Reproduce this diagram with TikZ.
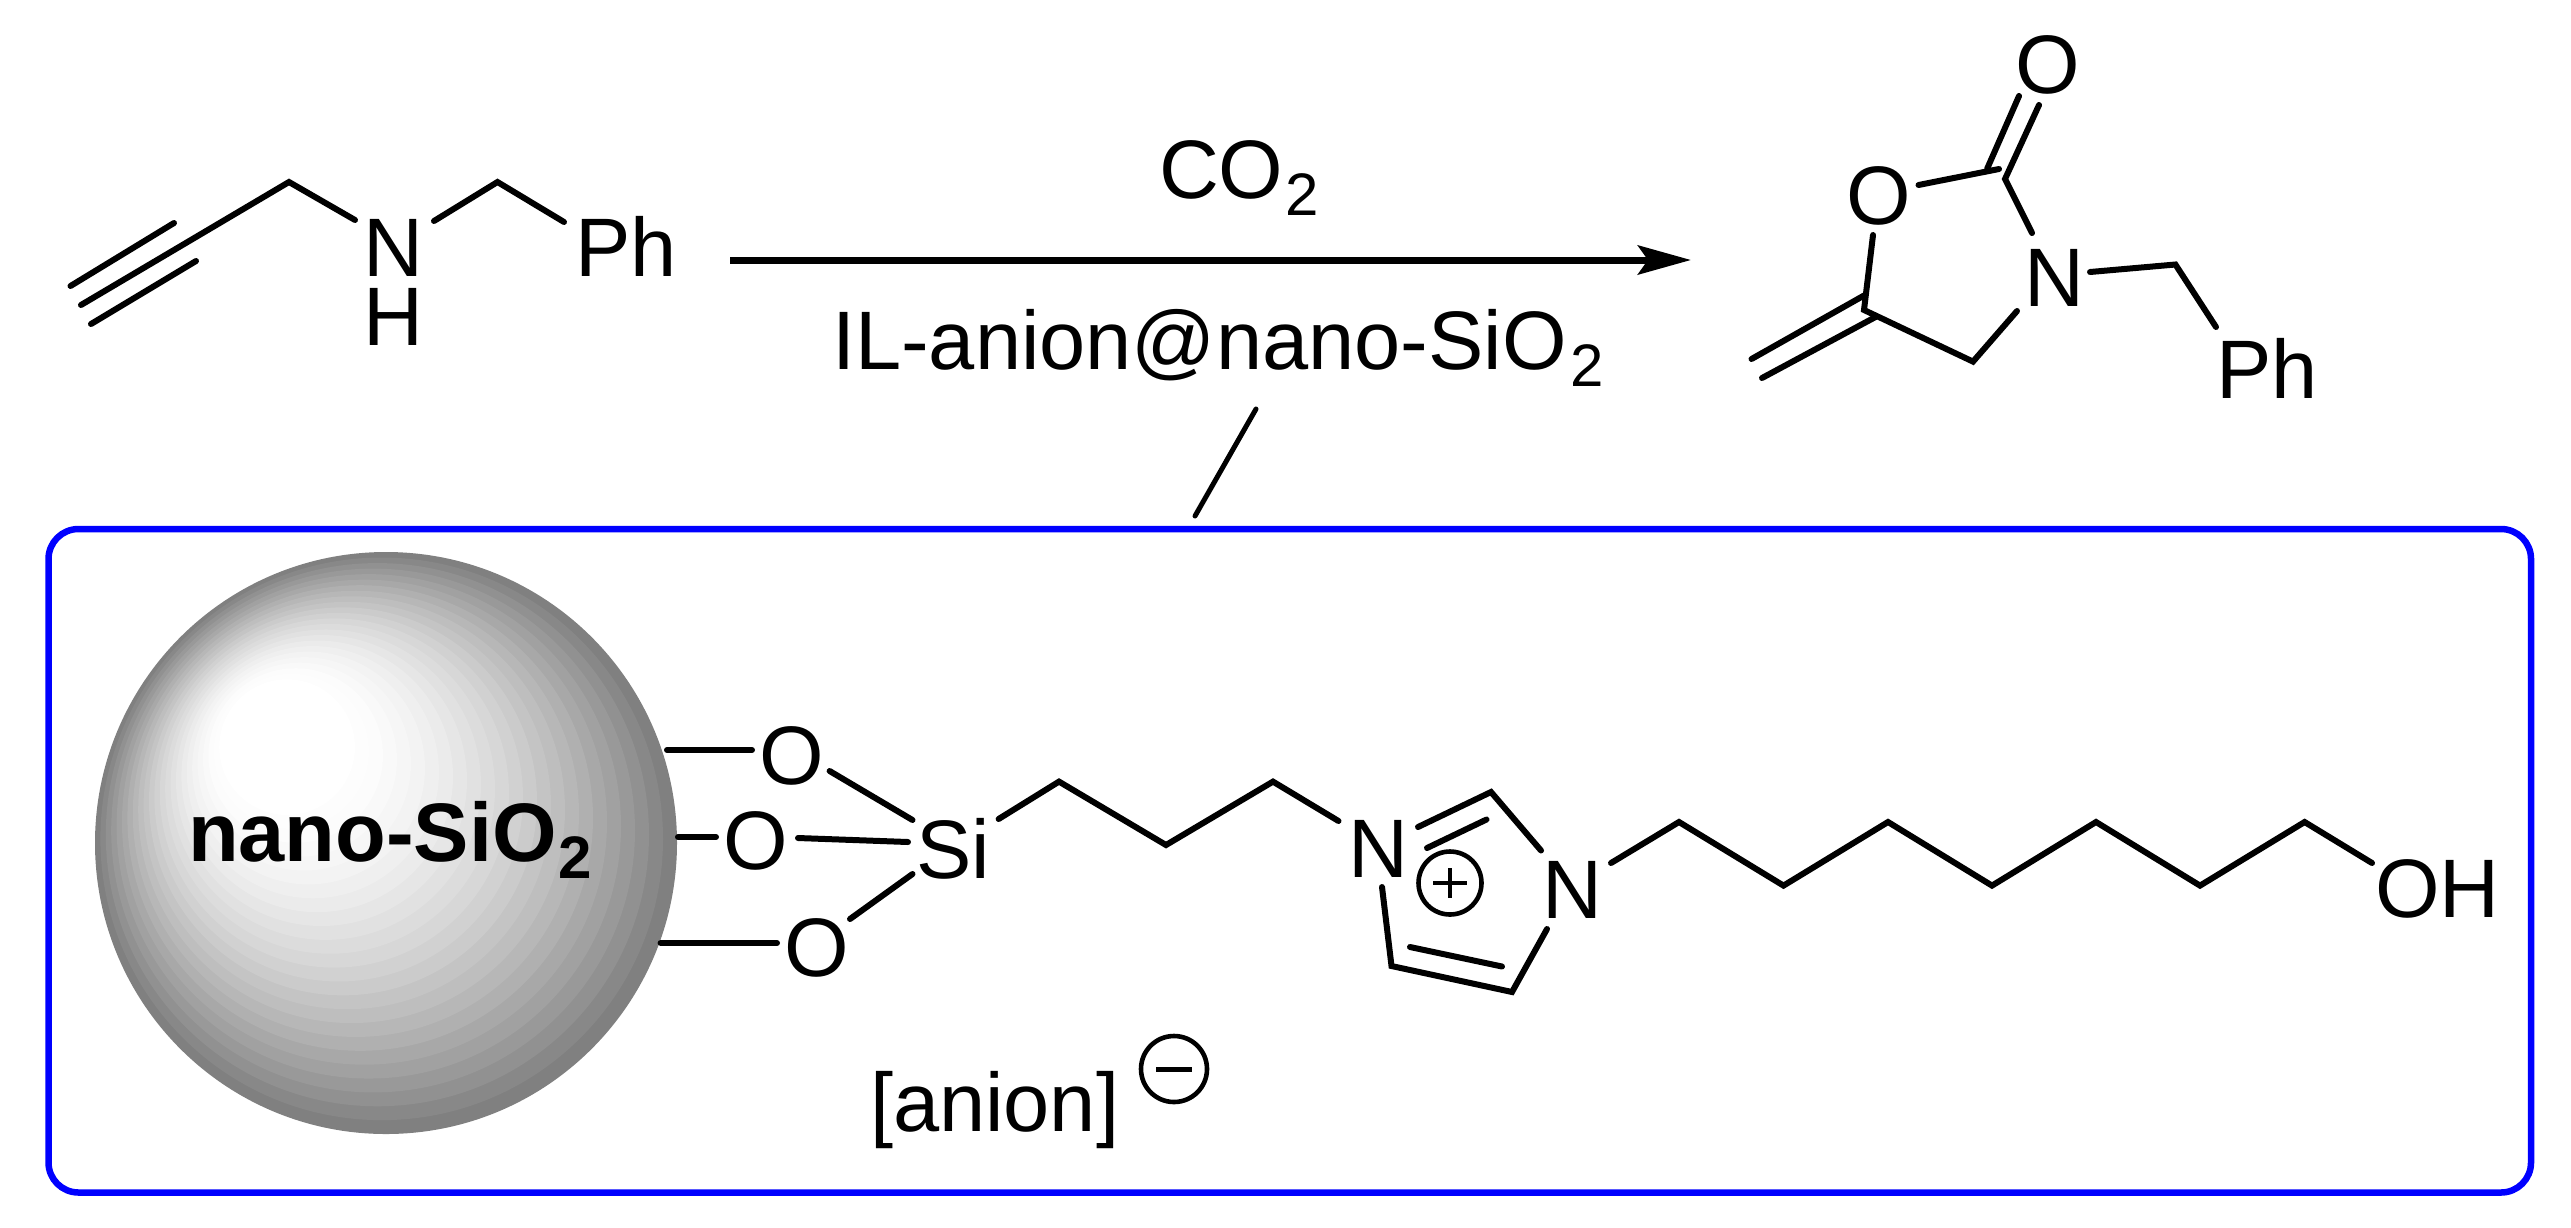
\documentclass[tikz,border=0pt]{standalone}
\usepackage{fontspec}
\setmainfont{Liberation Sans}
\usetikzlibrary{arrows.meta}
\newcommand{\bigtxt}{\fontsize{83}{90}\selectfont}
\newcommand{\subtxt}[1]{\kern2pt\raisebox{-17pt}{\fontsize{60}{60}\selectfont #1}}
\tikzset{
  bond/.style={draw=black,line width=6pt,line cap=round,line join=miter},
  thinbond/.style={draw=black,line width=5pt,line cap=round},
  atom/.style={inner sep=0pt,outer sep=0pt,anchor=base,font=\bigtxt,text=black},
  atomw/.style={inner sep=0pt,outer sep=0pt,anchor=base west,font=\bigtxt,text=black},
  frame/.style={draw=blue,line width=6.5pt,rounded corners=30pt},
  rxnarrow/.style={draw=black,line width=7pt,-{Stealth[length=53pt,width=29pt,inset=10pt]}},
  chargering/.style={draw=black,line width=4.6pt,circle,inner sep=0pt}
}
\begin{document}
\begin{tikzpicture}[x=1pt,y=-1pt]
\useasboundingbox (0,0) rectangle (2571,1227);
\fill[white] (0,0) rectangle (2571,1227);

% blue frame
\draw[frame] (48.5,529) rectangle (2531,1192.5);

% shaded sphere
\foreach \i in {30,29,...,0}{
  \pgfmathsetmacro{\t}{\i/30}
  \pgfmathsetmacro{\cx}{257+\t*(386-257)}
  \pgfmathsetmacro{\cy}{718+\t*(843-718)}
  \pgfmathsetmacro{\rr}{max(\t*291,0.1)}
  \pgfmathsetmacro{\u}{max((\t-0.22)/0.78,0.001)}
  \pgfmathsetmacro{\g}{50*\u^1.6}
  \fill[black!\g] (\cx,\cy) circle[radius=\rr];
}
\node[atomw,font=\bigtxt\bfseries] (sio) at (188,861) {nano-SiO\subtxt{2}};

% --- substrate
\coordinate (a1) at (81,305);
\coordinate (a2) at (289,182);
\coordinate (a1u) at (70.5,286);
\coordinate (a1v) at (174,223);
\coordinate (a1l) at (91,324);
\coordinate (a1m) at (196,261);
\coordinate (a3) at (355,220);
\coordinate (a4) at (434,221);
\coordinate (a5) at (497.5,182);
\coordinate (a6) at (564,222);
\draw[bond] (a1) -- (a2) -- (a3);
\draw[bond] (a1u) -- (a1v);
\draw[bond] (a1l) -- (a1m);
\draw[bond] (a4) -- (a5) -- (a6);
\node[atom] (subN) at (393,276.5) {N};
\node[atom] (subH) at (393,345) {H};
\node[atomw] (subPh) at (575,276.5) {Ph};

% --- arrow and reagents
\coordinate (arS) at (730,260);
\coordinate (arE) at (1691,260);
\draw[rxnarrow] (arS) -- (arE);
\node[atomw] (co2) at (1159,198) {CO\subtxt{2}};
\node[atomw] (cat) at (832,369) {IL-anion@nano-SiO\kern2pt\subtxt{2}};
\coordinate (t1) at (1256,409);
\coordinate (t2) at (1195,516);
\draw[thinbond] (t1) -- (t2);

% --- product
\node[atom] (pOtop) at (2048,93.5) {O};
\node[atom] (pOring) at (1879,224) {O};
\node[atom] (pN) at (2054.5,306.5) {N};
\node[atomw] (pPh) at (2216,398) {Ph};
\coordinate (p1) at (2019,96);
\coordinate (p2) at (1987,169);
\coordinate (p3) at (2039,105);
\coordinate (p4) at (2005,179);
\coordinate (p5) at (1918.5,185);
\coordinate (p6) at (1999,169);
\coordinate (p7) at (2032,233);
\coordinate (p8) at (2090,272);
\coordinate (p9) at (2175.4,264.5);
\coordinate (p10) at (2216,327);
\coordinate (p11) at (1873,235);
\coordinate (p12) at (1864,310);
\coordinate (p13) at (1973,361.6);
\coordinate (p14) at (2017,311);
\coordinate (p15) at (1864,295.5);
\coordinate (p16) at (1751.5,359);
\coordinate (p17) at (1875.5,317);
\coordinate (p18) at (1762,378);
\draw[bond] (p1) -- (p2);
\draw[bond] (p3) -- (p4) -- (p7);
\draw[bond] (p5) -- (p6);
\draw[bond] (p8) -- (p9) -- (p10);
\draw[bond] (p11) -- (p12) -- (p13) -- (p14);
\draw[bond] (p15) -- (p16);
\draw[bond] (p17) -- (p18);

% --- silane anchor
\node[atom] (Ot) at (792,784) {O};
\node[atom] (Om) at (756,869.5) {O};
\node[atom] (Ol) at (817,976.5) {O};
\node[atomw] (Si) at (916,878) {Si};
\coordinate (s1) at (667,750);
\coordinate (s2) at (752,750);
\coordinate (s3) at (678,837);
\coordinate (s4) at (716,837);
\coordinate (s5) at (660.6,943);
\coordinate (s6) at (777,943);
\coordinate (s7) at (829.6,771);
\coordinate (s8) at (912.5,820);
\coordinate (s9) at (798,838);
\coordinate (s10) at (908,842);
\coordinate (s11) at (912.5,874);
\coordinate (s12) at (850,919);
\draw[bond] (s1) -- (s2);
\draw[bond] (s3) -- (s4);
\draw[bond] (s5) -- (s6);
\draw[bond] (s7) -- (s8);
\draw[bond] (s9) -- (s10);
\draw[bond] (s11) -- (s12);

% --- propyl chain
\coordinate (c1) at (998.6,819);
\coordinate (c2) at (1059,781.6);
\coordinate (c3) at (1166,845);
\coordinate (c4) at (1273,781.6);
\coordinate (c5) at (1338.5,821);
\draw[bond] (c1) -- (c2) -- (c3) -- (c4) -- (c5);

% --- imidazolium
\node[atom] (N1) at (1378,877) {N};
\node[atom] (N3) at (1572.5,918.5) {N};
\coordinate (i1) at (1418,827);
\coordinate (i2) at (1491,792);
\coordinate (i3) at (1427,848);
\coordinate (i4) at (1486.5,819.5);
\coordinate (i5) at (1541,850.5);
\coordinate (i6) at (1547,929);
\coordinate (i7) at (1512,992);
\coordinate (i8) at (1391.5,966);
\coordinate (i9) at (1410,947);
\coordinate (i10) at (1502,966.5);
\coordinate (i11) at (1382,887);
\draw[bond] (i1) -- (i2) -- (i5);
\draw[bond] (i3) -- (i4);
\draw[bond] (i6) -- (i7) -- (i8) -- (i11);
\draw[bond] (i9) -- (i10);
\node[chargering,minimum size=63pt] (plus) at (1450,883) {};
\draw[line width=4.5pt] (plus.center) +(-17,0) -- +(17,0);
\draw[line width=4.5pt] (plus.center) +(0,-15) -- +(0,15);

% --- octanol chain
\coordinate (o1) at (1611,863);
\coordinate (o2) at (1679,822);
\coordinate (o3) at (1783.5,885.6);
\coordinate (o4) at (1888,822);
\coordinate (o5) at (1992,885.6);
\coordinate (o6) at (2096,822);
\coordinate (o7) at (2200,885.6);
\coordinate (o8) at (2304.6,822);
\coordinate (o9) at (2372,863);
\draw[bond] (o1) -- (o2) -- (o3) -- (o4) -- (o5) -- (o6) -- (o7) -- (o8) -- (o9);
\node[atomw] (OH) at (2375,917) {OH};

% --- anion
\node[atomw] (anion) at (870,1131) {[anion]};
\node[chargering,minimum size=66pt] (minus) at (1174,1069) {};
\draw[line width=5pt] (minus.center) +(-18,0) -- +(18,0);
\end{tikzpicture}
\end{document}
